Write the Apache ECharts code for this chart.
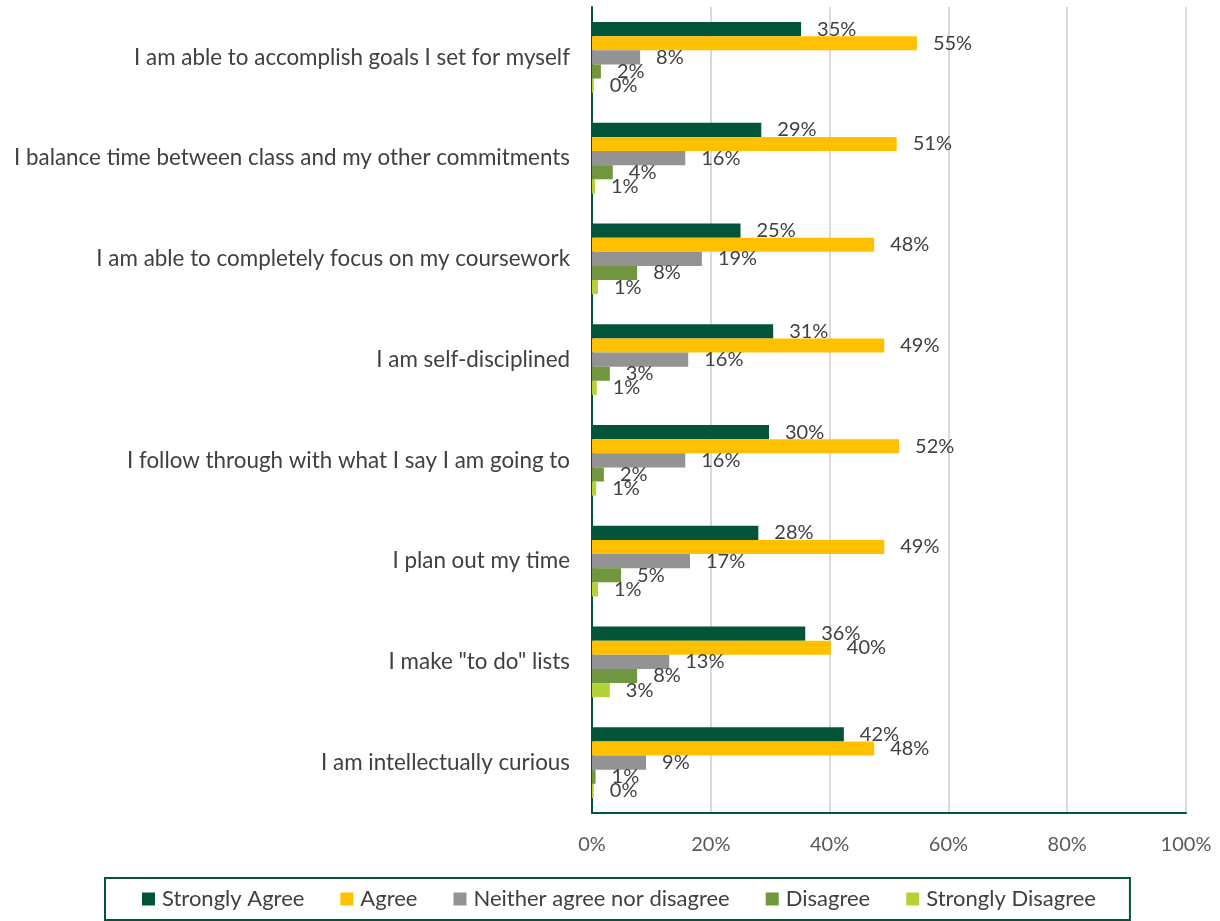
<!DOCTYPE html>
<html>
<head>
<meta charset="utf-8">
<script src="https://cdn.jsdelivr.net/npm/echarts@6/dist/echarts.min.js"></script>
<style>
  html, body { margin: 0; padding: 0; background: #fff; }
  #chart { width: 1220px; height: 921px; }
</style>
</head>
<body>
<div id="chart"></div>
<script>
// statements, top to bottom
const statements = [
  "I am able to accomplish goals I set for myself",
  "I balance time between class and my other commitments",
  "I am able to completely focus on my coursework",
  "I am self-disciplined",
  "I follow through with what I say I am going to",
  "I plan out my time",
  "I make \"to do\" lists",
  "I am intellectually curious"
];

// percentages per response
const stronglyAgree = [35.2, 28.5, 25.0, 30.5, 29.8, 28.0, 35.9, 42.4];
const agree = [54.7, 51.3, 47.5, 49.2, 51.7, 49.2, 40.2, 47.5];
const neither = [8.1, 15.7, 18.5, 16.2, 15.7, 16.5, 13.0, 9.1];
const disagree = [1.5, 3.5, 7.6, 3.0, 2.0, 4.9, 7.6, 0.6];
const stronglyDisagree = [0.3, 0.5, 1.0, 0.8, 0.7, 1.0, 3.0, 0.3];

const xTicks = [0, 20, 40, 60, 80, 100];

const FONT = "Lato";
const darkGreen = "#02553B";

function makeSeries(name, data, color) {
  return {
    name: name,
    type: "bar",
    data: data,
    barGap: "0%",
    barCategoryGap: "30%",
    itemStyle: { color: color },
    label: {
      show: true,
      position: "right",
      distance: 16,
      color: "#404040",
      fontFamily: FONT,
      fontSize: 20,
      formatter: p => Math.round(p.value) + "%"
    }
  };
}

const chart = echarts.init(document.getElementById("chart"));
chart.setOption({
  animation: false,
  textStyle: { fontFamily: FONT },
  grid: { left: 592, right: 34, top: 7, bottom: 108 },
  legend: {
    bottom: 1,
    left: 105,
    itemWidth: 13,
    itemHeight: 13,
    itemGap: 36,
    icon: "rect",
    padding: [10, 34, 10, 37],
    borderColor: darkGreen,
    borderWidth: 2,
    textStyle: { color: "#404040", fontSize: 22, fontFamily: FONT, padding: [0, 0, 0, 2] }
  },
  xAxis: {
    type: "value",
    min: xTicks[0],
    max: xTicks[xTicks.length - 1],
    interval: 20,
    axisLine: { show: true, lineStyle: { color: darkGreen, width: 2 } },
    axisTick: { show: false },
    splitLine: { lineStyle: { color: "#d9d9d9", width: 2 } },
    axisLabel: {
      color: "#595959",
      fontSize: 20,
      fontFamily: FONT,
      margin: 22,
      formatter: v => v + "%"
    }
  },
  yAxis: {
    type: "category",
    data: statements,
    inverse: true,
    axisLine: { show: true, lineStyle: { color: darkGreen, width: 2 } },
    axisTick: { show: false },
    axisLabel: {
      color: "#404040",
      fontSize: 22.4,
      fontFamily: FONT,
      margin: 22
    }
  },
  series: [
    makeSeries("Strongly Agree", stronglyAgree, "#02553B"),
    makeSeries("Agree", agree, "#FFC000"),
    makeSeries("Neither agree nor disagree", neither, "#939393"),
    makeSeries("Disagree", disagree, "#70973D"),
    makeSeries("Strongly Disagree", stronglyDisagree, "#B2D235")
  ]
});
</script>
</body>
</html>
